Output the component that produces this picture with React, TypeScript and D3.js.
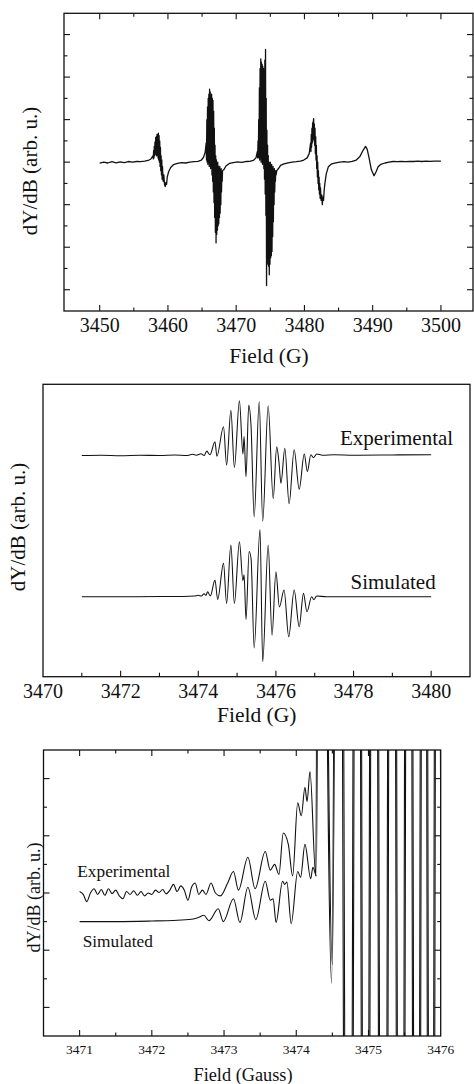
import React from "react";
import * as d3 from "d3";

type Pt = [number, number];

const W = 474;
const H = 1084;
const FONT = "Liberation Serif, Times New Roman, DejaVu Serif, serif";
const INK = "#111";

// ---- panel A: full spectrum, 3450-3500 G ----
const overviewTickLabels = [3450, 3460, 3470, 3480, 3490, 3500];
const overviewSpectrum: Pt[] = [
  [3450.0, -0.05], [3450.6, 0.0], [3451.2, -0.04], [3451.8, 0.02], [3452.4, -0.03], [3453.0, 0.01],
  [3453.6, -0.02], [3454.2, 0.03], [3454.8, 0.0], [3455.4, 0.03], [3456.0, 0.02], [3456.6, 0.05],
  [3457.1, 0.08], [3457.5, 0.15],
  [3457.8, 0.3], [3457.85, 0.15], [3457.9, 0.55], [3457.95, 0.2], [3458.0, 0.75], [3458.05, 0.3],
  [3458.1, 0.95], [3458.15, 0.35], [3458.2, 1.15], [3458.25, 0.4], [3458.3, 1.2], [3458.35, 0.3],
  [3458.4, 1.3], [3458.45, 0.4], [3458.5, 1.3], [3458.55, 0.2], [3458.6, 1.36], [3458.65, 0.1],
  [3458.7, 1.25], [3458.75, 0.0], [3458.8, 1.0], [3458.85, -0.2], [3458.9, 0.7], [3458.95, -0.4],
  [3459.0, 0.3], [3459.05, -0.6], [3459.1, 0.1], [3459.15, -0.8], [3459.2, -0.2], [3459.3, -0.9],
  [3459.4, -0.6], [3459.5, -1.05], [3459.6, -1.15], [3459.7, -0.95], [3459.8, -1.05], [3459.9, -0.7],
  [3460.1, -0.45], [3460.4, -0.25], [3460.8, -0.12], [3461.4, -0.06], [3462.0, -0.02], [3462.6, -0.04],
  [3463.2, 0.0], [3463.8, 0.02], [3464.4, 0.04], [3464.9, 0.1], [3465.2, 0.22], [3465.45, 0.45],
  [3465.6, 0.9], [3465.65, 0.1], [3465.7, 2.0], [3465.75, 0.0], [3465.8, 2.6], [3465.85, -0.1],
  [3465.9, 3.0], [3465.95, 0.1], [3466.0, 3.2], [3466.05, -0.2], [3466.1, 3.43], [3466.15, 0.0],
  [3466.2, 3.3], [3466.25, -0.3], [3466.3, 3.1], [3466.35, -0.2], [3466.4, 3.2], [3466.45, -0.6],
  [3466.5, 3.0], [3466.55, -0.9], [3466.6, 2.9], [3466.65, -1.4], [3466.7, 2.4], [3466.75, -1.9],
  [3466.8, 1.6], [3466.85, -2.6], [3466.9, 0.8], [3466.95, -3.3], [3467.0, 0.3], [3467.05, -3.8],
  [3467.1, 0.1], [3467.15, -3.4], [3467.2, -0.1], [3467.25, -3.2], [3467.3, 0.0], [3467.35, -3.0],
  [3467.4, -0.2], [3467.45, -2.9], [3467.5, -0.3], [3467.55, -2.6], [3467.6, -0.2], [3467.65, -2.4],
  [3467.7, -0.4], [3467.75, -2.0], [3467.8, -0.3], [3467.85, -1.4], [3467.9, -0.5], [3467.95, -0.9],
  [3468.0, -0.4], [3468.2, -0.35], [3468.5, -0.18], [3469.0, -0.06], [3469.6, -0.02], [3470.2, 0.01],
  [3470.8, -0.01], [3471.4, 0.03], [3472.0, 0.04], [3472.5, 0.08], [3472.9, 0.2],
  [3473.1, 0.5], [3473.15, 0.2], [3473.2, 1.0], [3473.25, 0.3], [3473.3, 2.0], [3473.35, 0.2],
  [3473.4, 3.5], [3473.45, 0.1], [3473.5, 4.4], [3473.55, 0.3], [3473.6, 4.85], [3473.65, 0.0],
  [3473.7, 4.7], [3473.75, 0.2], [3473.8, 4.6], [3473.85, -0.1], [3473.9, 4.5], [3473.95, 0.1],
  [3474.0, 4.4], [3474.05, -0.3], [3474.1, 4.2], [3474.15, -0.8], [3474.2, 4.8], [3474.25, -1.5],
  [3474.3, 5.3], [3474.35, -2.5], [3474.4, 3.0], [3474.45, -5.8], [3474.5, 1.5], [3474.55, -4.8],
  [3474.6, 0.8], [3474.65, -4.4], [3474.7, 0.3], [3474.75, -4.9], [3474.8, 0.0], [3474.85, -5.3],
  [3474.9, -0.1], [3474.95, -4.8], [3475.0, 0.0], [3475.05, -4.5], [3475.1, -0.2], [3475.15, -4.4],
  [3475.2, -0.1], [3475.25, -4.2], [3475.3, -0.3], [3475.35, -3.5], [3475.4, -0.2], [3475.45, -2.8],
  [3475.5, -0.4], [3475.55, -2.0], [3475.6, -0.3], [3475.65, -1.4], [3475.7, -0.5], [3475.75, -0.9],
  [3475.8, -0.4], [3475.85, -0.6], [3475.95, -0.4], [3476.2, -0.3], [3476.5, -0.15], [3477.0, -0.08],
  [3477.6, -0.03], [3478.2, 0.0], [3478.8, 0.02], [3479.4, 0.05], [3479.9, 0.1], [3480.4, 0.2], [3480.7, 0.4],
  [3480.9, 0.9], [3480.95, 0.5], [3481.0, 1.3], [3481.05, 0.7], [3481.1, 1.6], [3481.15, 0.9],
  [3481.2, 1.85], [3481.25, 1.1], [3481.3, 1.9], [3481.35, 2.05], [3481.4, 1.0], [3481.45, 1.8],
  [3481.5, 0.8], [3481.55, 1.6], [3481.6, 0.4], [3481.65, 1.2], [3481.7, 0.1], [3481.75, 0.8],
  [3481.8, -0.3], [3481.85, 0.3], [3481.9, -0.7], [3481.95, 0.0], [3482.0, -1.0], [3482.05, -0.4],
  [3482.1, -1.3], [3482.15, -0.7], [3482.2, -1.5], [3482.25, -1.0], [3482.3, -1.7], [3482.35, -1.2],
  [3482.45, -1.8], [3482.55, -1.55], [3482.62, -2.0], [3482.7, -1.65], [3482.8, -1.8], [3482.9, -1.3],
  [3483.0, -1.0], [3483.2, -0.55], [3483.5, -0.22], [3484.0, -0.08], [3484.6, -0.03], [3485.2, 0.0],
  [3485.8, 0.02], [3486.4, 0.0], [3487.0, 0.04], [3487.6, 0.1], [3488.1, 0.25], [3488.5, 0.5],
  [3488.95, 0.74], [3489.2, 0.6], [3489.5, 0.15], [3489.8, -0.35], [3490.2, -0.64], [3490.5, -0.45],
  [3490.8, -0.22], [3491.2, -0.1], [3491.8, -0.04], [3492.4, 0.0], [3493.0, 0.03], [3493.6, 0.02],
  [3494.2, 0.04], [3494.8, 0.02], [3495.4, 0.04], [3496.0, 0.03], [3496.6, 0.05], [3497.2, 0.03],
  [3497.8, 0.05], [3498.4, 0.04], [3499.0, 0.05], [3500.0, 0.05],
];

// ---- panel B: central line, experimental vs simulated ----
const centerTickLabels = [3470, 3472, 3474, 3476, 3478, 3480];
const centerExperimental: Pt[] = [
  [3471.0, 0], [3471.5, 0.02], [3472.0, -0.02], [3472.5, 0.02], [3473.0, 0], [3473.4, 0.04],
  [3473.7, 0.0], [3473.85, 0.08], [3473.95, 0.02], [3474.07, 0.12], [3474.15, 0.0], [3474.22, 0.3],
  [3474.3, 0.05], [3474.43, 0.94], [3474.48, -0.05], [3474.65, 1.96], [3474.73, -0.66], [3474.84, 3.1],
  [3474.93, -0.82], [3475.06, 3.74], [3475.15, 0.1], [3475.18, 1.3], [3475.23, -1.46], [3475.3, 3.44],
  [3475.36, 2.0], [3475.44, -4.2], [3475.57, 3.7], [3475.66, -4.5], [3475.8, 3.4], [3475.93, -2.95],
  [3476.02, 0.6], [3476.08, -0.5], [3476.13, -1.9], [3476.23, 0.5], [3476.34, -3.3], [3476.47, 0.4],
  [3476.6, -2.3], [3476.73, 0.1], [3476.81, -1.1], [3476.9, 0.05], [3476.97, -0.15], [3477.05, 0.1],
  [3477.2, 0.02], [3477.5, 0.05], [3478.0, 0.02], [3479.0, 0.04], [3480.0, 0.05],
];
const centerSimulated: Pt[] = [
  [3471.0, 0], [3472.0, 0], [3473.0, 0.01], [3473.6, 0.02], [3473.9, 0.05], [3474.0, 0.1],
  [3474.08, 0.05], [3474.15, 0.2], [3474.2, 0.1], [3474.24, 0.34], [3474.31, 0.05], [3474.43, 1.14],
  [3474.5, -0.18], [3474.65, 2.28], [3474.73, -0.46], [3474.84, 3.53], [3474.93, -0.46], [3475.06, 3.76],
  [3475.15, 1.1], [3475.18, 1.5], [3475.23, -1.55], [3475.31, 3.1], [3475.36, 2.6], [3475.44, -3.5],
  [3475.59, 4.6], [3475.66, -4.45], [3475.8, 3.53], [3475.9, -2.63], [3476.0, 1.71], [3476.09, -0.7],
  [3476.21, 0.46], [3476.33, -2.74], [3476.47, 0.46], [3476.6, -2.05], [3476.71, 0.23], [3476.8, -1.03],
  [3476.92, 0.0], [3476.98, -0.2], [3477.05, 0.05], [3477.3, 0.0], [3478.0, 0.0], [3479.0, 0.0], [3480.0, 0.0],
];

// ---- panel C: low-field wing, magnified ----
const wingTickLabels = [3471, 3472, 3473, 3474, 3475, 3476];
const wingExperimental: Pt[] = [
  [3471.0, 0.05], [3471.05, -0.05], [3471.1, -0.3], [3471.15, 0.0], [3471.2, 0.15], [3471.25, -0.05],
  [3471.3, 0.12], [3471.35, -0.08], [3471.4, 0.15], [3471.45, -0.02], [3471.5, 0.1], [3471.55, -0.1],
  [3471.6, -0.2], [3471.65, 0.05], [3471.7, -0.05], [3471.75, 0.08], [3471.8, -0.08], [3471.85, 0.05],
  [3471.9, -0.1], [3471.95, 0.0], [3472.0, -0.05], [3472.05, 0.1], [3472.1, 0.02], [3472.15, 0.12],
  [3472.2, -0.03], [3472.25, 0.1], [3472.3, 0.3], [3472.35, 0.05], [3472.4, 0.25], [3472.45, 0.1],
  [3472.5, -0.25], [3472.55, 0.2], [3472.6, 0.35], [3472.65, -0.05], [3472.7, 0.1], [3472.75, -0.05],
  [3472.82, 0.35], [3472.88, 0.0], [3472.95, -0.1], [3473.05, 0.35], [3473.13, 0.75], [3473.2, 0.1],
  [3473.33, 1.25], [3473.43, 0.15], [3473.57, 1.45], [3473.64, 0.8], [3473.7, 1.0], [3473.76, 0.65],
  [3473.82, 2.1], [3473.89, 1.7], [3473.95, 0.6], [3474.02, 3.15], [3474.07, 2.7], [3474.12, 3.7],
  [3474.15, 3.2], [3474.19, 4.25], [3474.27, 0.6], [3474.31, 30], [3474.49, -3.15], [3474.58, 35],
  [3474.72, -40], [3474.84, 40], [3474.95, -40], [3475.07, 40], [3475.2, -45], [3475.32, 45],
  [3475.44, -45], [3475.55, 45], [3475.66, -45], [3475.76, 40], [3475.86, -40], [3475.95, 35], [3476.05, -30],
];
const wingSimulated: Pt[] = [
  [3471.0, -1.0], [3471.5, -1.0], [3472.0, -0.98], [3472.3, -0.96], [3472.55, -0.92], [3472.65, -0.85],
  [3472.72, -0.78], [3472.79, -0.97], [3472.92, -0.55], [3472.99, -1.0], [3473.13, -0.2], [3473.22, -1.03],
  [3473.33, 0.2], [3473.44, -0.93], [3473.57, 0.41], [3473.64, -0.25], [3473.68, -0.2], [3473.72, -1.03],
  [3473.81, 0.41], [3473.84, 0.3], [3473.87, 0.38], [3473.93, -1.07], [3474.02, 0.75], [3474.06, 0.55],
  [3474.12, 1.7], [3474.2, 0.5], [3474.23, 0.9], [3474.28, 0.6], [3474.33, 28], [3474.5, -2.5],
  [3474.6, 35], [3474.735, -40], [3474.855, 40], [3474.965, -40], [3475.085, 40], [3475.215, -45],
  [3475.335, 45], [3475.455, -45], [3475.565, 45], [3475.675, -45], [3475.775, 40], [3475.875, -40],
  [3475.965, 35], [3476.065, -30],
];

type Box = { left: number; right: number; top: number; bottom: number };

const Border = ({ b }: { b: Box }) => (
  <rect x={b.left} y={b.top} width={b.right - b.left} height={b.bottom - b.top}
    fill="none" stroke={INK} strokeWidth={1.3} />
);

export default function App() {
  // panel A
  const bA: Box = { left: 64, right: 473, top: 13.3, bottom: 311 };
  const xA = d3.scaleLinear().domain([3444.77, 3504.7]).range([bA.left, bA.right]);
  const yA = d3.scaleLinear().domain([-7, 7]).range([bA.bottom, bA.top]);
  const lineA = d3.line<Pt>().x(d => xA(d[0])).y(d => yA(d[1]));

  // panel B
  const bB: Box = { left: 43, right: 470, top: 384.3, bottom: 676.7 };
  const xB = d3.scaleLinear().domain([3470, 3481]).range([bB.left, bB.right]);
  const yB = d3.scaleLinear().domain([0, 20]).range([bB.bottom, bB.top]);
  const expOffset = 15.13;
  const simOffset = 5.47;
  const lineBExp = d3.line<Pt>().x(d => xB(d[0])).y(d => yB(d[1] + expOffset)).curve(d3.curveMonotoneX);
  const lineBSim = d3.line<Pt>().x(d => xB(d[0])).y(d => yB(d[1] + simOffset)).curve(d3.curveMonotoneX);

  // panel C
  const bC: Box = { left: 43.5, right: 440.7, top: 750, bottom: 1036 };
  const xC = d3.scaleLinear().domain([3470.5, 3476]).range([bC.left, bC.right]);
  const yC = d3.scaleLinear().domain([-5, 5]).range([bC.bottom, bC.top]);
  const lineC = d3.line<Pt>().x(d => xC(d[0])).y(d => yC(d[1])).curve(d3.curveMonotoneX);

  const aXTicks = d3.range(3450, 3501, 5);
  const aYTicks = d3.range(-6, 7, 1);
  const bXTicks = d3.range(3471, 3481, 1);
  const cXTicks = d3.range(3471, 3476, 0.5);
  const cYTicks = d3.range(-4, 5, 1);

  return (
    <svg width={W} height={H} viewBox={`0 0 ${W} ${H}`} fontFamily={FONT} fill={INK}
      style={{ position: "absolute", left: 0, top: 0, background: "#fff" }}>
      <defs>
        <clipPath id="clipA"><rect x={bA.left} y={bA.top} width={bA.right - bA.left} height={bA.bottom - bA.top} /></clipPath>
        <clipPath id="clipB"><rect x={bB.left} y={bB.top} width={bB.right - bB.left} height={bB.bottom - bB.top} /></clipPath>
        <clipPath id="clipC"><rect x={bC.left} y={bC.top} width={bC.right - bC.left} height={bC.bottom - bC.top} /></clipPath>
      </defs>

      {/* panel A */}
      <g stroke={INK} strokeWidth={1.1}>
        {aXTicks.map(v => {
          const len = v % 10 === 0 ? 6 : 3.5;
          return (
            <g key={`ax${v}`}>
              <line x1={xA(v)} x2={xA(v)} y1={bA.bottom} y2={bA.bottom - len} />
              <line x1={xA(v)} x2={xA(v)} y1={bA.top} y2={bA.top + len} />
            </g>
          );
        })}
        {aYTicks.map(v => {
          const len = v % 2 === 0 ? 6 : 3.5;
          return (
            <g key={`ay${v}`}>
              <line x1={bA.left} x2={bA.left + len} y1={yA(v)} y2={yA(v)} />
              <line x1={bA.right} x2={bA.right - len} y1={yA(v)} y2={yA(v)} />
            </g>
          );
        })}
      </g>
      <path d={lineA(overviewSpectrum) ?? ""} fill="none" stroke={INK} strokeWidth={1.3}
        strokeLinejoin="round" clipPath="url(#clipA)" />
      <Border b={bA} />
      {overviewTickLabels.map(v => (
        <text key={`al${v}`} x={xA(v)} y={331.5} textAnchor="middle" fontSize={20}>{v}</text>
      ))}
      <text x={269} y={363} textAnchor="middle" fontSize={21.5}>Field (G)</text>
      <text transform="translate(37,171) rotate(-90)" textAnchor="middle" fontSize={21}>dY/dB (arb. u.)</text>

      {/* panel B */}
      <g stroke={INK} strokeWidth={1.1}>
        {bXTicks.map(v => {
          const len = v % 2 === 0 ? 6 : 4;
          return <line key={`bx${v}`} x1={xB(v)} x2={xB(v)} y1={bB.bottom} y2={bB.bottom - len} />;
        })}
      </g>
      <g clipPath="url(#clipB)" fill="none" stroke={INK} strokeWidth={1.05} strokeLinejoin="round">
        <path d={lineBExp(centerExperimental) ?? ""} />
        <path d={lineBSim(centerSimulated) ?? ""} />
      </g>
      <Border b={bB} />
      <text x={340} y={445} fontSize={21}>Experimental</text>
      <text x={350.5} y={589} fontSize={21}>Simulated</text>
      {centerTickLabels.map(v => (
        <text key={`bl${v}`} x={xB(v)} y={698} textAnchor="middle" fontSize={20}>{v}</text>
      ))}
      <text x={256.7} y={721.5} textAnchor="middle" fontSize={21.5}>Field (G)</text>
      <text transform="translate(25,527) rotate(-90)" textAnchor="middle" fontSize={21}>dY/dB (arb. u.)</text>

      {/* panel C */}
      <g stroke={INK} strokeWidth={1.1}>
        {cXTicks.map(v => {
          const len = Number.isInteger(v) ? 6 : 3.5;
          return (
            <g key={`cx${v}`}>
              <line x1={xC(v)} x2={xC(v)} y1={bC.bottom} y2={bC.bottom - len} />
              <line x1={xC(v)} x2={xC(v)} y1={bC.top} y2={bC.top + len} />
            </g>
          );
        })}
        {cYTicks.map(v => {
          const len = v % 2 === 0 ? 6 : 3.5;
          return (
            <g key={`cy${v}`}>
              <line x1={bC.left} x2={bC.left + len} y1={yC(v)} y2={yC(v)} />
              <line x1={bC.right} x2={bC.right - len} y1={yC(v)} y2={yC(v)} />
            </g>
          );
        })}
      </g>
      <g clipPath="url(#clipC)" fill="none" stroke={INK} strokeWidth={1.1} strokeLinejoin="round">
        <path d={lineC(wingExperimental) ?? ""} />
        <path d={lineC(wingSimulated) ?? ""} />
      </g>
      <Border b={bC} />
      <text x={77.3} y={876.7} fontSize={17.3}>Experimental</text>
      <text x={82.7} y={947.3} fontSize={17.3}>Simulated</text>
      {wingTickLabels.map(v => (
        <text key={`cl${v}`} x={xC(v)} y={1054} textAnchor="middle" fontSize={13.5}>{v}</text>
      ))}
      <text x={243} y={1080.5} textAnchor="middle" fontSize={18.3}>Field (Gauss)</text>
      <text transform="translate(39.5,897.5) rotate(-90)" textAnchor="middle" fontSize={18}>dY/dB (arb. u.)</text>
    </svg>
  );
}
